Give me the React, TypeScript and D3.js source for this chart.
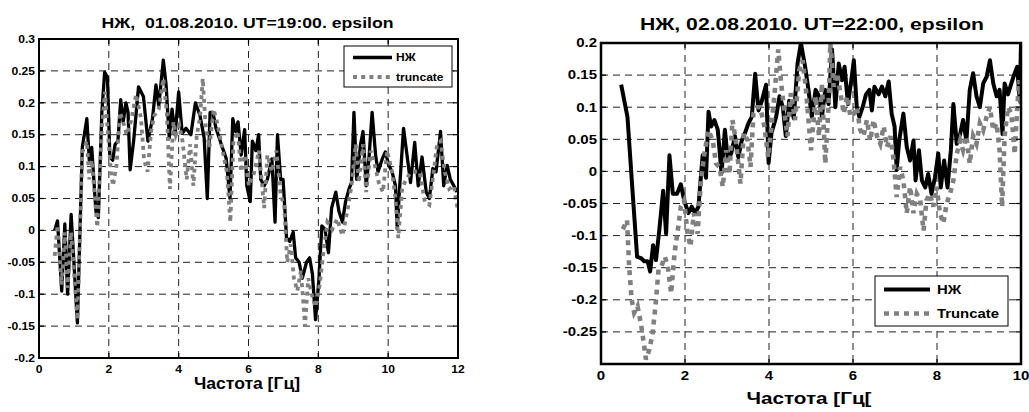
import React from 'react';
import * as d3 from 'd3';

// ---------- DATA ----------
const leftTitle = 'НЖ,  01.08.2010. UT=19:00. epsilon';
const rightTitle = 'НЖ, 02.08.2010. UT=22:00, epsilon';
const leftXLabel = 'Частота [Гц]';
const rightXLabel = 'Частота [Гц[';
const leftLegend = ['НЖ', 'truncate'];
const rightLegend = ['НЖ', 'Truncate'];

const leftXTicks = [0, 2, 4, 6, 8, 10, 12];
const leftYTicks = [-0.2, -0.15, -0.1, -0.05, 0, 0.05, 0.1, 0.15, 0.2, 0.25, 0.3];
const rightXTicks = [0, 2, 4, 6, 8, 10];
const rightYTicks = [-0.25, -0.2, -0.15, -0.1, -0.05, 0, 0.05, 0.1, 0.15, 0.2];

const leftNZ: [number, number][] = [
  [0.45, 0.0], [0.53, 0.015], [0.65, -0.095], [0.74, 0.01], [0.82, -0.1], [0.92, 0.025], [1.10, -0.145],
  [1.24, 0.13], [1.37, 0.175], [1.44, 0.11], [1.51, 0.13], [1.63, 0.03], [1.70, 0.02], [1.80, 0.185],
  [1.88, 0.248], [1.96, 0.24], [2.03, 0.115], [2.11, 0.11], [2.18, 0.135], [2.26, 0.14], [2.34, 0.205],
  [2.41, 0.17], [2.49, 0.2], [2.55, 0.185], [2.61, 0.095], [2.71, 0.14], [2.85, 0.225], [2.99, 0.21],
  [3.12, 0.14], [3.25, 0.175], [3.35, 0.228], [3.43, 0.195], [3.56, 0.267], [3.64, 0.228], [3.73, 0.145],
  [3.81, 0.19], [3.90, 0.15], [4.00, 0.217], [4.10, 0.152], [4.21, 0.16], [4.35, 0.15], [4.48, 0.2],
  [4.61, 0.18], [4.73, 0.145], [4.82, 0.05], [4.90, 0.185], [4.98, 0.185], [5.07, 0.16], [5.22, 0.135],
  [5.36, 0.113], [5.47, 0.05], [5.55, 0.175], [5.63, 0.155], [5.70, 0.17], [5.79, 0.118], [5.89, 0.158],
  [5.95, 0.07], [6.05, 0.045], [6.11, 0.14], [6.21, 0.125], [6.29, 0.15], [6.35, 0.08], [6.45, 0.07],
  [6.54, 0.08], [6.67, 0.112], [6.76, 0.013], [6.83, 0.15], [6.92, 0.08], [6.99, 0.08], [7.09, -0.012],
  [7.18, -0.017], [7.28, -0.003], [7.35, -0.043], [7.45, -0.05], [7.54, -0.075], [7.66, -0.05],
  [7.75, -0.043], [7.83, -0.068], [7.92, -0.14], [8.02, -0.075], [8.10, 0.007], [8.19, 0.002],
  [8.29, -0.035], [8.38, 0.035], [8.50, 0.06], [8.59, 0.03], [8.69, 0.013], [8.78, 0.045], [8.88, 0.065],
  [8.95, 0.075], [9.02, 0.185], [9.10, 0.08], [9.21, 0.135], [9.28, 0.155], [9.37, 0.07], [9.45, 0.113],
  [9.54, 0.185], [9.64, 0.118], [9.71, 0.092], [9.83, 0.112], [9.92, 0.123], [10.02, 0.102], [10.11, 0.092],
  [10.21, 0.07], [10.26, 0.002], [10.32, 0.06], [10.44, 0.16], [10.54, 0.118], [10.64, 0.075], [10.76, 0.138],
  [10.86, 0.07], [10.97, 0.115], [11.09, 0.06], [11.18, 0.05], [11.28, 0.097], [11.37, 0.092], [11.50, 0.155],
  [11.59, 0.07], [11.69, 0.102], [11.78, 0.08], [11.88, 0.07], [11.97, 0.06],
];

const leftTR: [number, number][] = [
  [0.45, -0.04], [0.53, 0.008], [0.65, -0.085], [0.74, -0.003], [0.82, -0.09], [0.92, -0.003], [1.10, -0.14],
  [1.24, 0.122], [1.37, 0.14], [1.44, 0.08], [1.51, 0.11], [1.67, 0.005], [1.80, 0.16], [1.89, 0.217],
  [1.97, 0.155], [2.06, 0.092], [2.12, 0.07], [2.22, 0.102], [2.32, 0.185], [2.41, 0.17], [2.51, 0.15],
  [2.63, 0.17], [2.78, 0.213], [2.92, 0.176], [3.01, 0.11], [3.11, 0.092], [3.21, 0.155], [3.30, 0.18],
  [3.43, 0.19], [3.56, 0.238], [3.66, 0.185], [3.75, 0.065], [3.85, 0.17], [3.92, 0.15], [4.02, 0.165],
  [4.11, 0.14], [4.23, 0.08], [4.33, 0.135], [4.42, 0.07], [4.52, 0.15], [4.61, 0.176], [4.69, 0.238],
  [4.77, 0.165], [4.88, 0.13], [5.00, 0.19], [5.12, 0.165], [5.24, 0.13], [5.38, 0.092], [5.48, 0.013],
  [5.57, 0.14], [5.69, 0.155], [5.79, 0.092], [5.89, 0.118], [6.01, 0.07], [6.16, 0.09], [6.30, 0.125],
  [6.45, 0.035], [6.54, 0.118], [6.67, 0.092], [6.80, 0.125], [6.92, 0.055], [7.02, 0.04], [7.11, -0.05],
  [7.21, -0.022], [7.30, -0.075], [7.40, -0.095], [7.50, -0.063], [7.62, -0.15], [7.71, -0.075],
  [7.81, -0.1], [7.92, -0.12], [8.04, -0.085], [8.16, -0.028], [8.26, 0.013], [8.40, 0.002], [8.54, 0.018],
  [8.69, -0.008], [8.83, 0.03], [8.95, 0.07], [9.07, 0.135], [9.16, 0.075], [9.28, 0.135], [9.37, 0.06],
  [9.50, 0.125], [9.62, 0.102], [9.73, 0.075], [9.85, 0.06], [9.97, 0.125], [10.11, 0.092], [10.21, 0.05],
  [10.29, -0.012], [10.40, 0.065], [10.51, 0.08], [10.64, 0.09], [10.76, 0.092], [10.90, 0.092],
  [11.05, 0.045], [11.18, 0.04], [11.30, 0.09], [11.40, 0.135], [11.50, 0.14], [11.62, 0.092],
  [11.75, 0.065], [11.88, 0.07], [12.0, 0.03],
];

const rightNZ: [number, number][] = [
  [0.48, 0.135], [0.63, 0.085], [0.75, -0.03], [0.86, -0.133], [0.95, -0.135], [1.03, -0.14], [1.11, -0.14],
  [1.17, -0.156], [1.24, -0.115], [1.31, -0.138], [1.39, -0.09], [1.48, -0.03], [1.55, -0.097], [1.63, 0.025],
  [1.71, -0.035], [1.81, -0.035], [1.90, -0.02], [1.98, -0.045], [2.08, -0.065], [2.16, -0.055],
  [2.24, -0.065], [2.32, -0.055], [2.42, 0.025], [2.50, -0.01], [2.56, 0.093], [2.62, 0.07], [2.70, 0.08],
  [2.78, 0.065], [2.87, -0.003], [2.95, 0.065], [3.02, 0.018], [3.10, 0.028], [3.19, 0.055], [3.27, 0.022],
  [3.35, 0.048], [3.43, 0.06], [3.51, 0.075], [3.59, 0.085], [3.67, 0.152], [3.75, 0.095], [3.83, 0.11],
  [3.93, 0.135], [3.99, 0.013], [4.06, 0.06], [4.17, 0.085], [4.25, 0.117], [4.33, 0.1], [4.40, 0.055],
  [4.48, 0.11], [4.59, 0.083], [4.68, 0.168], [4.76, 0.2], [4.86, 0.163], [4.94, 0.127], [5.02, 0.085],
  [5.11, 0.127], [5.19, 0.117], [5.26, 0.085], [5.34, 0.127], [5.42, 0.105], [5.50, 0.19], [5.58, 0.1],
  [5.66, 0.168], [5.74, 0.142], [5.80, 0.163], [5.88, 0.105], [5.96, 0.142], [6.02, 0.173], [6.09, 0.1],
  [6.15, 0.085], [6.23, 0.1], [6.31, 0.12], [6.39, 0.127], [6.45, 0.095], [6.51, 0.132], [6.61, 0.12],
  [6.69, 0.132], [6.77, 0.117], [6.85, 0.14], [6.92, 0.09], [6.99, 0.07], [7.04, 0.002], [7.10, 0.048],
  [7.20, 0.09], [7.28, 0.038], [7.36, 0.017], [7.44, 0.048], [7.49, -0.014], [7.57, 0.033], [7.64, -0.014],
  [7.72, -0.025], [7.79, -0.004], [7.87, -0.035], [7.95, -0.01], [8.03, 0.028], [8.09, -0.025],
  [8.17, 0.017], [8.25, -0.025], [8.33, 0.033], [8.39, 0.105], [8.47, 0.043], [8.55, 0.058], [8.62, 0.08],
  [8.70, 0.048], [8.78, 0.127], [8.86, 0.153], [8.94, 0.117], [9.02, 0.1], [9.10, 0.137], [9.18, 0.147],
  [9.26, 0.173], [9.34, 0.137], [9.42, 0.117], [9.49, 0.127], [9.56, 0.058], [9.61, 0.137], [9.69, 0.12],
  [9.77, 0.137], [9.85, 0.153], [9.91, 0.163], [9.97, 0.11], [10.0, 0.2],
];

const rightTR: [number, number][] = [
  [0.52, -0.09], [0.62, -0.076], [0.67, -0.148], [0.73, -0.2], [0.79, -0.22], [0.87, -0.21], [0.95, -0.237],
  [1.02, -0.268], [1.07, -0.293], [1.15, -0.278], [1.23, -0.252], [1.31, -0.2], [1.37, -0.153], [1.44, -0.148],
  [1.52, -0.133], [1.59, -0.148], [1.67, -0.19], [1.75, -0.128], [1.84, -0.086], [1.90, -0.055],
  [1.98, -0.045], [2.06, -0.097], [2.13, -0.117], [2.21, -0.065], [2.30, -0.097], [2.38, -0.014],
  [2.46, 0.027], [2.56, 0.064], [2.66, 0.048], [2.74, 0.012], [2.82, 0.007], [2.90, -0.024], [2.98, 0.033],
  [3.06, -0.004], [3.13, 0.08], [3.21, 0.048], [3.32, -0.019], [3.40, 0.06], [3.49, 0.048], [3.56, 0.007],
  [3.63, 0.09], [3.71, 0.1], [3.79, 0.1], [3.89, 0.07], [3.98, 0.022], [4.06, 0.07], [4.14, 0.127],
  [4.22, 0.19], [4.29, 0.137], [4.37, 0.09], [4.44, 0.055], [4.52, 0.122], [4.62, 0.08], [4.72, 0.158],
  [4.80, 0.173], [4.88, 0.127], [5.00, 0.033], [5.11, 0.117], [5.19, 0.055], [5.26, 0.137], [5.34, 0.012],
  [5.42, 0.105], [5.46, 0.2], [5.54, 0.132], [5.62, 0.153], [5.70, 0.122], [5.78, 0.09], [5.86, 0.117],
  [5.94, 0.085], [6.02, 0.09], [6.09, 0.1], [6.17, 0.065], [6.25, 0.055], [6.33, 0.08], [6.41, 0.048],
  [6.49, 0.08], [6.57, 0.055], [6.65, 0.043], [6.73, 0.07], [6.81, 0.038], [6.89, 0.055], [6.96, 0.022],
  [7.04, -0.04], [7.12, 0.007], [7.20, -0.014], [7.28, -0.065], [7.36, -0.024], [7.44, -0.065],
  [7.52, -0.035], [7.60, -0.045], [7.68, -0.092], [7.75, -0.045], [7.83, -0.035], [7.91, -0.055],
  [7.99, -0.024], [8.07, -0.065], [8.15, -0.081], [8.23, -0.05], [8.31, -0.035], [8.39, -0.014],
  [8.47, 0.027], [8.55, 0.048], [8.62, 0.033], [8.70, 0.055], [8.78, 0.012], [8.86, 0.055], [8.94, 0.043],
  [9.02, 0.075], [9.10, 0.064], [9.18, 0.085], [9.26, 0.1], [9.34, 0.064], [9.42, 0.075], [9.49, 0.033],
  [9.55, -0.055], [9.61, 0.055], [9.69, 0.1], [9.77, 0.09], [9.85, 0.027], [9.91, 0.1], [9.96, 0.142],
  [10.0, 0.1],
];

// ---------- LAYOUT ----------
const FONT = '"Liberation Sans", Arial, Helvetica, sans-serif';

type PanelCfg = {
  id: string;
  box: { x0: number; y0: number; x1: number; y1: number };
  xDomain: [number, number];
  yDomain: [number, number];
  xTicks: number[];
  yTicks: number[];
  nz: [number, number][];
  tr: [number, number][];
  title: string;
  titleX: number; titleY: number; titleSize: number; titleLen: number;
  xLabel: string;
  xLabelX: number; xLabelY: number; xLabelSize: number; xLabelLen: number;
  tickSize: number; tickSx: number; yLabelGap: number; xTickY: number;
  legendLabels: string[];
  legend: { x0: number; y0: number; x1: number; y1: number; s0: number; s1: number; tx: number; r1: number; r2: number; size: number; sx: number };
  lineW: number; dotW: number; dash: string; axisW: number;
};

const panels: PanelCfg[] = [
  {
    id: 'L',
    box: { x0: 39, y0: 39, x1: 458, y1: 358 },
    xDomain: [0, 12], yDomain: [-0.2, 0.3],
    xTicks: leftXTicks, yTicks: leftYTicks,
    nz: leftNZ, tr: leftTR,
    title: leftTitle, titleX: 247.5, titleY: 28, titleSize: 15, titleLen: 292,
    xLabel: leftXLabel, xLabelX: 247, xLabelY: 389, xLabelSize: 16, xLabelLen: 106,
    tickSize: 10.5, tickSx: 1.15, yLabelGap: 4, xTickY: 372.5,
    legendLabels: leftLegend,
    legend: { x0: 344, y0: 46, x1: 452, y1: 87, s0: 353, s1: 392, tx: 396, r1: 57.5, r2: 77, size: 10.5, sx: 1.15 },
    lineW: 3.3, dotW: 3.8, dash: '4 4.2', axisW: 2,
  },
  {
    id: 'R',
    box: { x0: 601, y0: 43, x1: 1021, y1: 364 },
    xDomain: [0, 10], yDomain: [-0.3, 0.2],
    xTicks: rightXTicks, yTicks: rightYTicks,
    nz: rightNZ, tr: rightTR,
    title: rightTitle, titleX: 812, titleY: 29.5, titleSize: 17, titleLen: 344,
    xLabel: rightXLabel, xLabelX: 809, xLabelY: 404, xLabelSize: 17, xLabelLen: 125,
    tickSize: 12, tickSx: 1.25, yLabelGap: 4, xTickY: 380,
    legendLabels: rightLegend,
    legend: { x0: 875, y0: 276, x1: 1008, y1: 326, s0: 884, s1: 930, tx: 937, r1: 289.5, r2: 313.5, size: 12.5, sx: 1.19 },
    lineW: 4, dotW: 4.6, dash: '5 5', axisW: 2.5,
  },
];

const fmt = (v: number) => {
  const r = Math.round(v * 1000) / 1000;
  return String(r);
};

function Panel({ p }: { p: PanelCfg }) {
  const { box } = p;
  const x = d3.scaleLinear().domain(p.xDomain).range([box.x0, box.x1]);
  const y = d3.scaleLinear().domain(p.yDomain).range([box.y1, box.y0]);
  const line = d3.line<[number, number]>().x(d => x(d[0])).y(d => y(d[1])).curve(d3.curveLinear);
  const eps = 1e-9;
  const gridX = p.xTicks.filter(t => t > p.xDomain[0] + eps && t < p.xDomain[1] - eps);
  const gridY = p.yTicks.filter(t => t > p.yDomain[0] + eps && t < p.yDomain[1] - eps);
  const tl = 5;
  const lg = p.legend;
  return (
    <g fontFamily={FONT} fontWeight="bold">
      <defs>
        <clipPath id={'clip' + p.id}>
          <rect x={box.x0} y={box.y0} width={box.x1 - box.x0} height={box.y1 - box.y0} />
        </clipPath>
      </defs>
      <rect x={box.x0} y={box.y0} width={box.x1 - box.x0} height={box.y1 - box.y0} fill="#fff" />
      {gridX.map(t => (
        <line key={'gx' + t} x1={x(t)} x2={x(t)} y1={box.y0} y2={box.y1} stroke="#222" strokeWidth={1} strokeDasharray="7 5" />
      ))}
      {gridY.map(t => (
        <line key={'gy' + t} x1={box.x0} x2={box.x1} y1={y(t)} y2={y(t)} stroke="#222" strokeWidth={1} strokeDasharray="7 5" />
      ))}
      <g clipPath={`url(#clip${p.id})`}>
        <path d={line(p.nz) || ''} fill="none" stroke="#000" strokeWidth={p.lineW} strokeLinejoin="round" />
        <path d={line(p.tr) || ''} fill="none" stroke="#808080" strokeWidth={p.dotW} strokeDasharray={p.dash} strokeLinejoin="miter" />
      </g>
      {p.xTicks.map(t => (
        <g key={'xt' + t}>
          <line x1={x(t)} x2={x(t)} y1={box.y1} y2={box.y1 - tl} stroke="#000" strokeWidth={1.2} />
          <line x1={x(t)} x2={x(t)} y1={box.y0} y2={box.y0 + tl} stroke="#000" strokeWidth={1.2} />
          <text transform={`translate(${x(t)},${p.xTickY}) scale(${p.tickSx},1)`} textAnchor="middle" fontSize={p.tickSize}>{fmt(t)}</text>
        </g>
      ))}
      {p.yTicks.map(t => (
        <g key={'yt' + t}>
          <line x1={box.x0} x2={box.x0 + tl} y1={y(t)} y2={y(t)} stroke="#000" strokeWidth={1.2} />
          <line x1={box.x1} x2={box.x1 - tl} y1={y(t)} y2={y(t)} stroke="#000" strokeWidth={1.2} />
          <text transform={`translate(${box.x0 - p.yLabelGap},${y(t) + p.tickSize * 0.36}) scale(${p.tickSx},1)`} textAnchor="end" fontSize={p.tickSize}>{fmt(t)}</text>
        </g>
      ))}
      <rect x={box.x0} y={box.y0} width={box.x1 - box.x0} height={box.y1 - box.y0} fill="none" stroke="#000" strokeWidth={p.axisW} />
      <text x={p.titleX} y={p.titleY} textAnchor="middle" fontSize={p.titleSize} textLength={p.titleLen} lengthAdjust="spacingAndGlyphs" style={{ whiteSpace: 'pre' }}>{p.title}</text>
      <text x={p.xLabelX} y={p.xLabelY} textAnchor="middle" fontSize={p.xLabelSize} textLength={p.xLabelLen} lengthAdjust="spacingAndGlyphs">{p.xLabel}</text>
      <rect x={lg.x0} y={lg.y0} width={lg.x1 - lg.x0} height={lg.y1 - lg.y0} fill="#fff" stroke="#000" strokeWidth={1} />
      <line x1={lg.s0} x2={lg.s1} y1={lg.r1} y2={lg.r1} stroke="#000" strokeWidth={p.lineW} />
      <line x1={lg.s0} x2={lg.s1} y1={lg.r2} y2={lg.r2} stroke="#808080" strokeWidth={p.dotW} strokeDasharray={p.dash} />
      <text transform={`translate(${lg.tx},${lg.r1 + lg.size * 0.36}) scale(${lg.sx},1)`} fontSize={lg.size}>{p.legendLabels[0]}</text>
      <text transform={`translate(${lg.tx},${lg.r2 + lg.size * 0.36}) scale(${lg.sx},1)`} fontSize={lg.size}>{p.legendLabels[1]}</text>
    </g>
  );
}

export default function App() {
  return (
    <svg width={1029} height={412} viewBox="0 0 1029 412" style={{ position: 'absolute', left: 0, top: 0, background: '#fff' }}>
      <rect x={0} y={0} width={1029} height={412} fill="#fff" />
      {panels.map(p => <Panel key={p.id} p={p} />)}
    </svg>
  );
}
